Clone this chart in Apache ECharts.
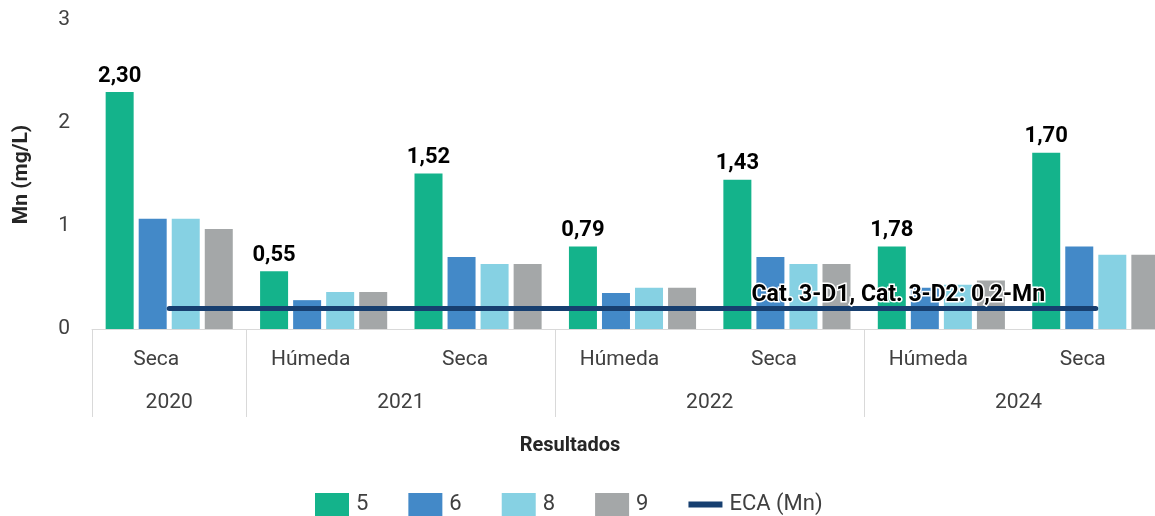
<!DOCTYPE html>
<html><head><meta charset="utf-8">
<script src="https://cdn.jsdelivr.net/npm/echarts@6/dist/echarts.min.js"></script>
<style>html,body{margin:0;padding:0;background:#fff}#c{width:1155px;height:516px}</style>
</head><body><div id="c"></div>
<script>
const seasons = ['Seca','Húmeda','Seca','Húmeda','Seca','Húmeda','Seca'];
const years = ['2020','2021','2022','2024'];
const yearSpans = [1,2,2,2];
const s5 = [2.30,0.56,1.51,0.80,1.45,0.80,1.71];
const s6 = [1.07,0.28,0.70,0.35,0.70,0.40,0.80];
const s8 = [1.07,0.36,0.63,0.40,0.63,0.43,0.72];
const s9 = [0.97,0.36,0.63,0.40,0.63,0.47,0.72];
const s5Labels = ['2,30','0,55','1,52','0,79','1,43','1,78','1,70'];
const eca = [0.2,0.2,0.2,0.2,0.2,0.2,0.2];
const ecaLabel = 'Cat. 3-D1, Cat. 3-D2: 0,2-Mn';
const ecaLabelIndex = 5;
const seriesNames = ['5','6','8','9','ECA (Mn)'];
const yTicks = [0,1,2,3];

const FONT = 'Roboto';
const colors = ['#14B38B','#4389C8','#86D1E3','#A4A7A8','#173F70'];

// year axis: half-category steps
const nHalf = seasons.length*2+1;
const yearAxisLabels = new Array(nHalf).fill('');
const yearAxisData = yearAxisLabels.map((_,i)=>String(i));
const boundaries = new Set([0]);
let st = 0;
years.forEach((y,i)=>{ yearAxisLabels[2*st+yearSpans[i]] = y; st += yearSpans[i]; boundaries.add(2*st); });

const chart = echarts.init(document.getElementById('c'));
const barBase = {type:'bar', barWidth:28, barGap:'18%', xAxisIndex:0, yAxisIndex:0};
chart.setOption({
  animation:false,
  textStyle:{fontFamily:FONT},
  grid:{left:92, right:-18, top:20, bottom:187, containLabel:false, outerBoundsMode:'none'},
  title:{text:'Resultados', left:565, top:431, textAlign:'center',
    textStyle:{fontFamily:FONT, fontSize:20, fontWeight:'bold', color:'#262626'}},
  legend:{left:310, top:488, itemWidth:34, itemHeight:23, itemGap:40, symbolKeepAspect:true,
    textStyle:{fontFamily:FONT, fontSize:22, color:'#404040', padding:[0,0,0,2]},
    data:seriesNames.map((n,i)=> i<4 ? {name:n, icon:'rect'} : {name:n, icon:'path://M0,0H34V6H0Z'})},
  xAxis:[{
    type:'category', data:seasons, position:'bottom',
    axisLine:{show:true, lineStyle:{color:'#d9d9d9', width:1}},
    axisTick:{show:false},
    axisLabel:{fontFamily:FONT, fontSize:21, color:'#404040', margin:20, padding:[0,26,0,0]}
  },{
    type:'category', data:yearAxisData, boundaryGap:false, position:'bottom', gridIndex:0,
    axisLine:{show:false},
    axisTick:{show:true, length:88, lineStyle:{color:'#d9d9d9', width:1},
      interval:(i)=>boundaries.has(i)},
    axisLabel:{fontFamily:FONT, fontSize:21, color:'#404040', margin:63,
      interval:(i)=>yearAxisLabels[i]!=='', formatter:(v,i)=>yearAxisLabels[i]}
  }],
  yAxis:{
    type:'value', min:yTicks[0], max:yTicks[yTicks.length-1], interval:1,
    name:'Mn (mg/L)', nameLocation:'middle', nameGap:60,
    nameTextStyle:{fontFamily:FONT, fontSize:21, fontWeight:'bold', color:'#262626'},
    axisLine:{show:false}, axisTick:{show:false}, splitLine:{show:false},
    axisLabel:{fontFamily:FONT, fontSize:21, color:'#404040', margin:22, padding:[0,0,8,0]}
  },
  series:[
    Object.assign({}, barBase, {name:seriesNames[0], data:s5, itemStyle:{color:colors[0]},
      label:{show:true, position:'top', distance:5, fontFamily:FONT, fontSize:22, fontWeight:'bold', color:'#000',
        textBorderColor:'#fff', textBorderWidth:2, formatter:(p)=>s5Labels[p.dataIndex]}}),
    Object.assign({}, barBase, {name:seriesNames[1], data:s6, itemStyle:{color:colors[1]}}),
    Object.assign({}, barBase, {name:seriesNames[2], data:s8, itemStyle:{color:colors[2]}}),
    Object.assign({}, barBase, {name:seriesNames[3], data:s9, itemStyle:{color:colors[3]}}),
    {type:'line', name:seriesNames[4], xAxisIndex:0, yAxisIndex:0, z:5,
     symbol:'circle', symbolSize:0, showSymbol:true,
     lineStyle:{color:colors[4], width:5, cap:'round'}, itemStyle:{color:colors[4]},
     label:{show:false},
     data:eca.map((v,i)=> i===ecaLabelIndex ? {value:v, label:{show:true, position:'top', distance:2, offset:[-43,0],
        formatter:ecaLabel, fontFamily:FONT, fontSize:23, fontWeight:'bold', color:'#000',
        textBorderColor:'#fff', textBorderWidth:3}} : v)}
  ]
});
</script></body></html>
